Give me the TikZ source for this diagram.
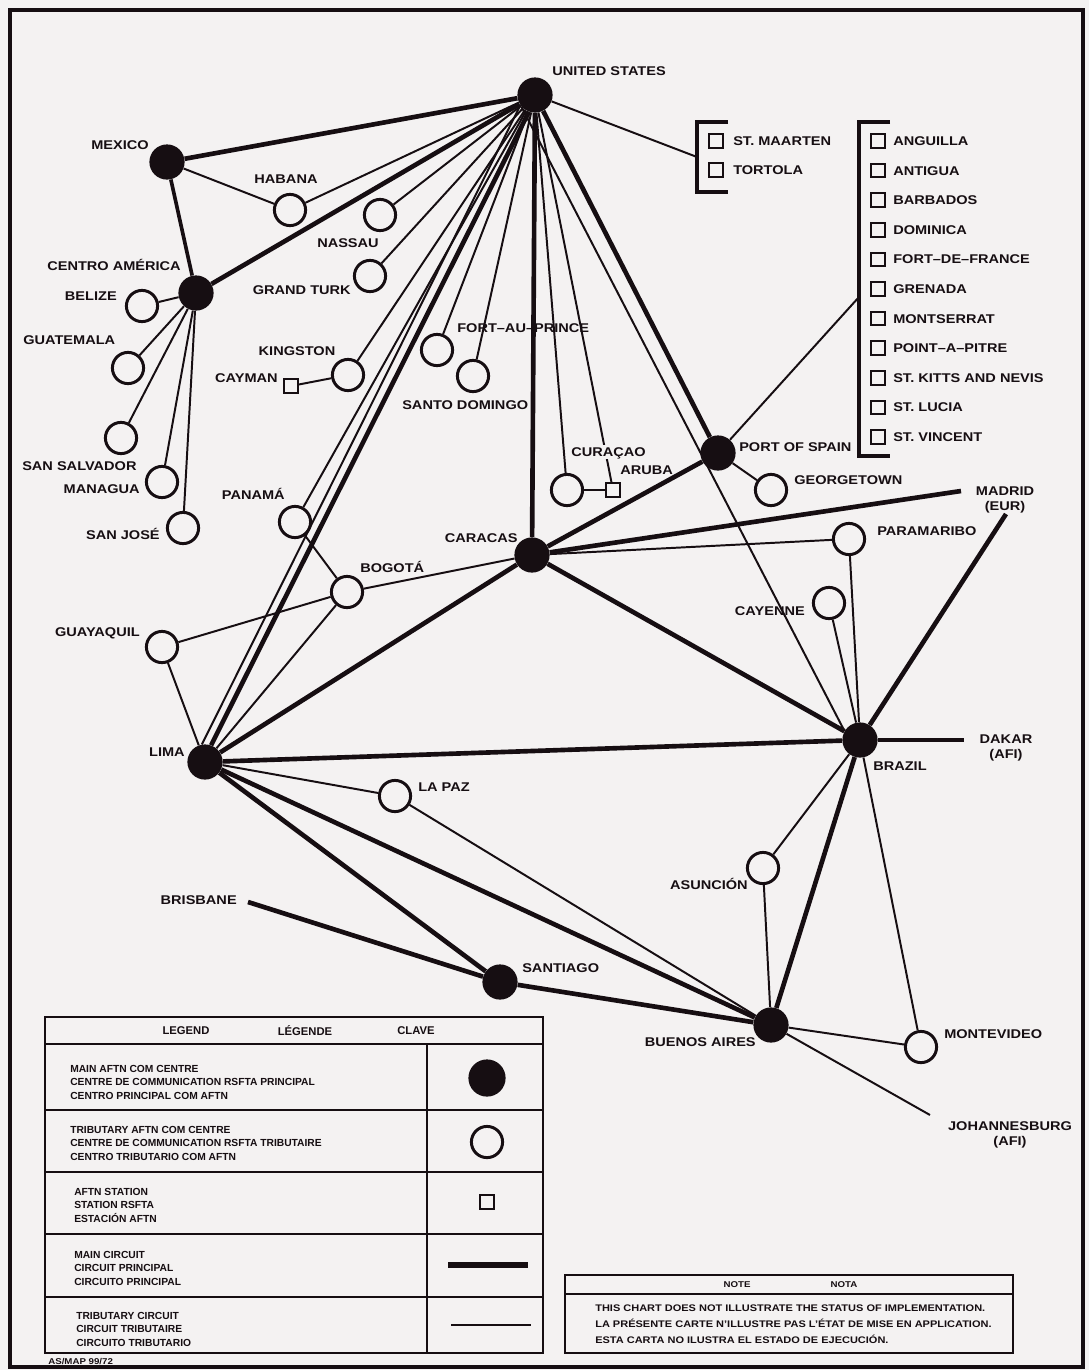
\documentclass[tikz,border=0pt]{standalone}
\usepackage{fontspec}
\setmainfont{Liberation Sans}
\newfontfamily\mapfont{Liberation Sans}[FakeStretch=1.15,Ligatures=TeX]
\definecolor{paper}{RGB}{244,242,242}
\definecolor{ink}{RGB}{22,14,18}
\tikzset{
  hub/.style={circle,fill=ink,minimum size=0.88cm,inner sep=0pt},
  trib/.style={circle,draw=ink,line width=2.1pt,fill=paper,minimum size=0.78cm,inner sep=0pt},
  stn/.style={rectangle,draw=ink,line width=1.5pt,fill=paper,minimum size=0.34cm,inner sep=0pt},
  place/.style={font=\mapfont\bfseries\fontsize{9}{10.5}\selectfont,text=ink,inner sep=0pt,text height=6.4pt,text depth=0pt},
  keytext/.style={font=\bfseries\fontsize{7.3}{9.6}\selectfont,text=ink,inner sep=0pt,align=left},
  notetext/.style={font=\mapfont\bfseries\fontsize{6.8}{11.3}\selectfont,text=ink,inner sep=0pt,align=left},
  maincirc/.style={draw=ink,line width=3.3pt},
  tribcirc/.style={draw=ink,line width=1.4pt},
  frame/.style={draw=ink,line width=1.6pt}
}
\begin{document}
\begin{tikzpicture}[x=0.025cm,y=-0.025cm]
  \useasboundingbox (0,0) rectangle (1089,1370);
  \fill[paper] (0,0) rectangle (1089,1370);
  \draw[frame,line width=2.2pt] (10,10) rectangle (1083,1367);

  % main centres
  \node[hub] (us) at (535,95) {};
  \node[hub] (mexico) at (167,162) {};
  \node[hub] (ca) at (196,293) {};
  \node[hub] (caracas) at (532,555) {};
  \node[hub] (pos) at (718,453) {};
  \node[hub] (lima) at (205,762) {};
  \node[hub] (brazil) at (860,740) {};
  \node[hub] (santiago) at (500,982) {};
  \node[hub] (ba) at (771,1025) {};

  % tributary centres
  \node[trib] (habana) at (290,210) {};
  \node[trib] (nassau) at (380,215) {};
  \node[trib] (grandturk) at (370,276) {};
  \node[trib] (belize) at (142,306) {};
  \node[trib] (guatemala) at (128,368) {};
  \node[trib] (sansalvador) at (121,438) {};
  \node[trib] (managua) at (162,482) {};
  \node[trib] (sanjose) at (183,528) {};
  \node[trib] (kingston) at (348,375) {};
  \node[trib] (fap) at (437,350) {};
  \node[trib] (sd) at (473,376) {};
  \node[trib] (curacao) at (567,490) {};
  \node[trib] (georgetown) at (771,490) {};
  \node[trib] (panama) at (295,522) {};
  \node[trib] (bogota) at (347,592) {};
  \node[trib] (guayaquil) at (162,647) {};
  \node[trib] (lapaz) at (395,796) {};
  \node[trib] (paramaribo) at (849,539) {};
  \node[trib] (cayenne) at (829,603) {};
  \node[trib] (asuncion) at (763,868) {};
  \node[trib] (montevideo) at (921,1047) {};

  % stations
  \node[stn] (cayman) at (291,386) {};
  \node[stn] (aruba) at (613,490) {};
  \node[stn] (maarten) at (716,141) {};
  \node[stn] (tortola) at (716,170) {};
  \foreach \nm [count=\i] in {ANGUILLA,ANTIGUA,BARBADOS,DOMINICA,FORT--DE--FRANCE,GRENADA,MONTSERRAT,POINT--A--PITRE,ST. KITTS AND NEVIS,ST. LUCIA,ST. VINCENT}
  {
    \node[stn] (isl\i) at (878,{141+29.6*(\i-1)}) {};
    \node[place,anchor=west] (isl\i-lbl) at (893,{141+29.6*(\i-1)}) {\nm};
  }

  % brackets and far ends
  \draw[frame,line width=2.2pt] (728,122) -- (697,122) -- (697,192) -- (728,192);
  \draw[frame,line width=2.2pt] (890,122) -- (859,122) -- (859,456) -- (890,456);
  \coordinate (bk1) at (697,157);
  \coordinate (bk2) at (859,297);
  \coordinate (madridA) at (961,491);
  \coordinate (madridB) at (1006,514);
  \coordinate (dakar) at (964,740);
  \coordinate (brisbane) at (248,902);
  \coordinate (joburg) at (930,1115);

  \begin{scope}[maincirc]
    \draw (us) to (mexico);
    \draw (us) to (ca);
    \draw[line width=2.6pt] (mexico) to (ca);
    \draw (us.250) to (lima.70);
    \draw (us) to (caracas);
    \draw (us) to (pos);
    \draw (pos) to (caracas);
    \draw (caracas) to (madridA);
    \draw (caracas) to (brazil);
    \draw (caracas) to (lima);
    \draw (brazil) to (madridB);
    \draw (brazil) to (dakar);
    \draw (lima) to (brazil);
    \draw (brazil) to (ba);
    \draw (lima) to (santiago);
    \draw (lima) to (ba);
    \draw (brisbane) to (santiago);
    \draw (santiago) to (ba);
  \end{scope}
  \begin{scope}[tribcirc]
    \draw (us) to (habana);
    \draw (mexico) to (habana);
    \draw (us) to (nassau);
    \draw (us) to (grandturk);
    \draw (us) to (kingston);
    \draw (us) to (panama);
    \draw (us.215) to (lima.100);
    \draw (us) to (fap);
    \draw (us) to (sd);
    \draw (us) to (curacao);
    \draw (us) to (aruba);
    \draw (us.220) to (brazil.150);
    \draw (us) to (bk1);
    \draw (ca) to (belize);
    \draw (ca) to (guatemala);
    \draw (ca) to (sansalvador);
    \draw (ca) to (managua);
    \draw (ca) to (sanjose);
    \draw (kingston) to (cayman);
    \draw (curacao) to (aruba);
    \draw (pos) to (georgetown);
    \draw (pos) to (bk2);
    \draw (caracas) to (paramaribo);
    \draw (caracas) to (bogota);
    \draw (panama) to (bogota);
    \draw (bogota) to (guayaquil);
    \draw (bogota) to (lima);
    \draw (guayaquil) to (lima);
    \draw (lima) to (lapaz);
    \draw (lapaz) to (ba);
    \draw (brazil) to (paramaribo);
    \draw (brazil) to (cayenne);
    \draw (brazil) to (asuncion);
    \draw (brazil) to (montevideo);
    \draw (asuncion) to (ba);
    \draw (ba) to (montevideo);
    \draw (ba) to (joburg);
  \end{scope}

  % place names
  \node[place,anchor=west] (us-lbl) at (552,71) {UNITED STATES};
  \node[place,anchor=east] (mexico-lbl) at (149,145) {MEXICO};
  \node[place] (habana-lbl) at (286,179) {HABANA};
  \node[place] (nassau-lbl) at (348,243) {NASSAU};
  \node[place,anchor=east] (grandturk-lbl) at (351,290) {GRAND TURK};
  \node[place] (ca-lbl) at (114,266) {CENTRO AMÉRICA};
  \node[place,anchor=east] (belize-lbl) at (117,296) {BELIZE};
  \node[place,anchor=west] (guatemala-lbl) at (23,340) {GUATEMALA};
  \node[place,anchor=west] (sansalvador-lbl) at (22,466) {SAN SALVADOR};
  \node[place,anchor=east] (managua-lbl) at (140,489) {MANAGUA};
  \node[place,anchor=east] (sanjose-lbl) at (160,535) {SAN JOSÉ};
  \node[place] (kingston-lbl) at (297,351) {KINGSTON};
  \node[place,anchor=east] (cayman-lbl) at (278,378) {CAYMAN};
  \node[place,anchor=west] (fap-lbl) at (457,328) {FORT--AU--PRINCE};
  \node[place,anchor=west] (sd-lbl) at (402,405) {SANTO DOMINGO};
  \node[place,anchor=west,fill=paper,inner sep=1.5pt] (curacao-lbl) at (569,452) {CURAÇAO};
  \node[place,anchor=west] (aruba-lbl) at (620,470) {ARUBA};
  \node[place,anchor=west] (pos-lbl) at (739,447) {PORT OF SPAIN};
  \node[place,anchor=west] (georgetown-lbl) at (794,480) {GEORGETOWN};
  \node[place,anchor=east] (caracas-lbl) at (518,538) {CARACAS};
  \node[place,anchor=east] (panama-lbl) at (285,495) {PANAMÁ};
  \node[place,anchor=west] (bogota-lbl) at (360,568) {BOGOTÁ};
  \node[place,anchor=east] (guayaquil-lbl) at (140,632) {GUAYAQUIL};
  \node[place,anchor=east] (lima-lbl) at (185,752) {LIMA};
  \node[place,anchor=west] (lapaz-lbl) at (418,787) {LA PAZ};
  \node[place,anchor=west] (brazil-lbl) at (873,766) {BRAZIL};
  \node[place,align=center,text height=,text depth=] (madrid-lbl) at (1005,500) {MADRID\\(EUR)};
  \node[place,anchor=west] (paramaribo-lbl) at (877,531) {PARAMARIBO};
  \node[place,anchor=east] (cayenne-lbl) at (805,611) {CAYENNE};
  \node[place,align=center,text height=,text depth=] (dakar-lbl) at (1006,748) {DAKAR\\(AFI)};
  \node[place,anchor=east] (asuncion-lbl) at (748,885) {ASUNCIÓN};
  \node[place,anchor=east] (brisbane-lbl) at (237,900) {BRISBANE};
  \node[place,anchor=west] (santiago-lbl) at (522,968) {SANTIAGO};
  \node[place,anchor=east] (ba-lbl) at (756,1042) {BUENOS AIRES};
  \node[place,anchor=west] (montevideo-lbl) at (944,1034) {MONTEVIDEO};
  \node[place,align=center,text height=,text depth=] (joburg-lbl) at (1010,1135) {JOHANNESBURG\\(AFI)};
  \node[place,anchor=west] (maarten-lbl) at (733,141) {ST. MAARTEN};
  \node[place,anchor=west] (tortola-lbl) at (733,170) {TORTOLA};

  % legend
  \draw[frame] (45,1017) rectangle (543,1353);
  \foreach \yy in {1044,1110,1172,1234,1297}
    \draw[frame] (45,\yy) -- (543,\yy);
  \draw[frame] (427,1044) -- (427,1353);
  \node[keytext,font=\bfseries\fontsize{8}{9}\selectfont] (key-en) at (186,1031) {LEGEND};
  \node[keytext,font=\bfseries\fontsize{8}{9}\selectfont] (key-fr) at (305,1031) {LÉGENDE};
  \node[keytext,font=\bfseries\fontsize{8}{9}\selectfont] (key-es) at (416,1031) {CLAVE};
  \node[keytext,anchor=west] (key1) at (70,1082) {MAIN AFTN COM CENTRE\\CENTRE DE COMMUNICATION RSFTA PRINCIPAL\\CENTRO PRINCIPAL COM AFTN};
  \node[keytext,anchor=west] (key2) at (70,1143) {TRIBUTARY AFTN COM CENTRE\\CENTRE DE COMMUNICATION RSFTA TRIBUTAIRE\\CENTRO TRIBUTARIO COM AFTN};
  \node[keytext,anchor=west] (key3) at (74,1205) {AFTN STATION\\STATION RSFTA\\ESTACIÓN AFTN};
  \node[keytext,anchor=west] (key4) at (74,1268) {MAIN CIRCUIT\\CIRCUIT PRINCIPAL\\CIRCUITO PRINCIPAL};
  \node[keytext,anchor=west] (key5) at (76,1329) {TRIBUTARY CIRCUIT\\CIRCUIT TRIBUTAIRE\\CIRCUITO TRIBUTARIO};
  \node[hub,minimum size=0.93cm] (key-hub) at (487,1078) {};
  \node[trib] (key-trib) at (487,1142) {};
  \node[stn] (key-stn) at (487,1202) {};
  \coordinate (key-m1) at (448,1265);
  \coordinate (key-m2) at (528,1265);
  \coordinate (key-t1) at (451,1325);
  \coordinate (key-t2) at (531,1325);
  \draw[maincirc,line width=4pt] (key-m1) to (key-m2);
  \draw[tribcirc] (key-t1) to (key-t2);

  % note
  \draw[frame] (565,1275) rectangle (1013,1353);
  \draw[frame] (565,1294) -- (1013,1294);
  \node[notetext,font=\mapfont\bfseries\fontsize{6}{7}\selectfont] (note-en) at (737,1285) {NOTE};
  \node[notetext,font=\mapfont\bfseries\fontsize{6}{7}\selectfont] (note-es) at (844,1285) {NOTA};
  \node[notetext,anchor=west] (note-txt) at (595,1324) {THIS CHART DOES NOT ILLUSTRATE THE STATUS OF IMPLEMENTATION.\\LA PRÉSENTE CARTE N'ILLUSTRE PAS L'ÉTAT DE MISE EN APPLICATION.\\ESTA CARTA NO ILUSTRA EL ESTADO DE EJECUCIÓN.};
  \node[notetext,anchor=west,font=\mapfont\bfseries\fontsize{6}{7}\selectfont] (ref-lbl) at (48,1362) {AS/MAP 99/72};
\end{tikzpicture}
\end{document}
